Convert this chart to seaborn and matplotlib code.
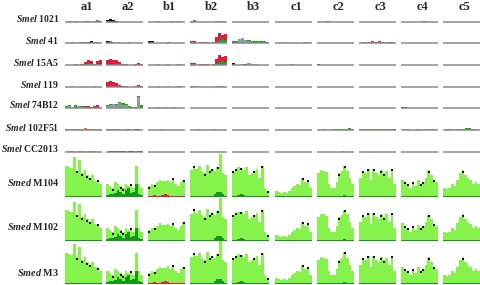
import numpy as np
import seaborn as sns
import matplotlib.pyplot as plt

# Panel columns and rows
columns = ["a1", "a2", "b1", "b2", "b3", "c1", "c2", "c3", "c4", "c5"]
smel_rows = ["1021", "41", "15A5", "119", "74B12", "102F51", "CC2013"]
smed_rows = ["M104", "M102", "M3"]

# Smel profiles (heights in pixels), one dict per row and colour layer
smel_1021_blue = {"a1": [0.5, 1, 0.5, 1, 0.5, 0.5, 1.5, 1, 0.5, 1.5, 2, 1],
                  "b2": [1.5, 2, 0.5, 0.5, 0.3, 0.3, 0.3, 0.3, 1, 1.5, 1, 0.3]}
smel_1021_black = {"a2": [2, 3, 2.5, 1, 0.5, 0.5, 0.5, 0.5, 0.5, 0.5, 0.5, 0.5],
                   "c2": [0, 0, 0, 0.8, 0, 0, 0, 0, 0, 0, 0, 0],
                   "c4": [0, 0, 0, 0, 0, 0, 0, 0.8, 0, 0, 0, 0]}
smel_1021_gray = {"b1": [0.5, 0.5, 0.5, 1, 0.5, 0.5, 0.5, 1, 0.5, 1, 1.5, 0.5],
                  "b3": [0.3, 0.3, 0.5, 0.3, 0.3, 0.5, 0.3, 0.3, 0.3, 0.5, 0.3, 0.3]}

smel_41_blue = {"a1": [0.5, 0.5, 1, 0.5, 0.5, 1, 1.5, 1, 2, 1.5, 1, 0.5],
                "a2": [1.5, 2, 1, 0.5, 1, 0.5, 0.5, 1, 0.5, 0.5, 0.5, 0.3]}
smel_41_black = {"a1": [0, 0, 0, 0, 0, 0, 0, 1.5, 2, 0, 0, 0],
                 "a2": [2, 0, 0, 0, 0, 0, 0, 0, 0, 0, 0, 0],
                 "b1": [2.5, 2, 0.5, 0.5, 0.5, 0.5, 1, 0.5, 0.5, 0.5, 0.5, 0.5],
                 "b3": [1.5, 0, 0, 0, 0, 0, 0, 0, 0, 0, 0, 0]}
smel_41_red = {"b2": [2.5, 2, 0.5, 0.8, 1, 0.8, 0.5, 1, 6, 10, 8, 9],
               "c3": [0.5, 1, 1.5, 1, 2, 1.5, 2, 1.5, 1, 1.5, 1, 0.5]}
smel_41_green = {"b2": [0, 0, 0, 0, 0, 0, 0, 0, 1, 3.5, 4, 3],
                 "b3": [2, 2, 3.5, 4.5, 3.5, 3, 2, 2, 2.5, 2, 2.5, 1.5]}
smel_41_gray = {"b3": [0, 1, 4, 5, 3, 2.5, 1, 0, 1.5, 0, 1.5, 0],
                "c1": [0.3, 0.3, 0.8, 0.3, 0.3, 0.3, 0.3, 0.3, 0.5, 1, 0.8, 0.3],
                "c3": [0, 0.8, 1.5, 0, 1.5, 1.5, 1, 0, 0.8, 0, 0, 0]}

smel_15a5_red = {"a1": [0.5, 0.5, 0.5, 1, 0.5, 1, 3, 5, 4, 1, 4.5, 5],
                 "a2": [5, 6, 5, 5, 3, 1, 1, 0.5, 0.5, 1, 2.5, 1],
                 "b2": [2, 2.5, 0.5, 0.8, 1, 0.8, 0.5, 1, 6, 10, 8, 9]}
smel_15a5_green = {"a1": [0, 0, 0, 0, 0, 0, 1, 1.5, 1.5, 1, 1, 1],
                   "b2": [0, 0, 0, 0, 0, 0, 0, 0, 1, 3.5, 4, 3]}
smel_15a5_gray = {"b1": [0.5, 0.5, 0.5, 0.8, 0.5, 0.5, 0.8, 0.5, 0.5, 1, 1, 0.5],
                  "b3": [2, 0.5, 0.5, 1.5, 1, 2, 1.5, 1, 0.5, 0.5, 0.5, 0.3],
                  "c1": [0.3, 0.3, 0.3, 0.3, 0.3, 0.8, 0.3, 0.3, 0.3, 0.3, 0.3, 0.3]}
smel_15a5_black = {"b3": [2, 0, 0, 0, 1.5, 0, 0, 0, 0, 0, 0, 0],
                   "c2": [1, 0, 0, 0, 0, 0, 0, 0, 0, 0, 0, 0]}

smel_119_gray = {"a1": [0.5, 0.5, 1, 0.5, 0.5, 0.5, 0.8, 0.5, 0.5, 1, 0.5, 0.5],
                 "b1": [0.5, 0.5, 0.5, 0.8, 0.5, 0.5, 0.8, 0.5, 0.5, 1, 1, 0.5]}
smel_119_red = {"a2": [5, 6, 5, 4, 2, 1, 1, 0.5, 0.5, 1, 2, 1]}
smel_119_blue = {"b2": [1.5, 1, 0.5, 0.3, 0.3, 0.3, 0.3, 0.3, 1.5, 1, 1, 0.3],
                 "b3": [0.5, 0.3, 0.3, 0.3, 0.3, 0.3, 0.3, 0.3, 0.3, 0.3, 0.3, 0.3]}

smel_74b12_green = {"a1": [2, 3, 1.5, 3, 2, 2.5, 1, 2, 1, 2.5, 3, 1.5],
                    "a2": [3, 4, 4.5, 4, 6, 5, 4, 2, 1, 1, 12, 3]}
smel_74b12_gray = {"a1": [1, 2.5, 1, 0, 2, 1.5, 0, 0, 0, 0, 0, 1],
                   "a2": [2.5, 3, 4, 3, 5.5, 3.5, 3, 0, 0, 0, 11, 0],
                   "b1": [1, 0.5, 0.5, 1, 0.5, 1, 0.5, 0.5, 1, 0.5, 0.5, 0.5]}
smel_74b12_red = {"a1": [0, 0, 0, 0, 0, 0, 2, 2.5, 0, 2, 3, 0]}
smel_74b12_black = {"c4": [1, 0.8, 0, 0, 0, 0, 0, 0, 0, 0, 0, 0]}

smel_102f51_orange = {"a1": [1, 1, 1.5, 1, 1, 1.5, 2, 1.5, 1, 1.5, 1, 1],
                      "c3": [1, 1, 1.5, 1, 1, 1.5, 1, 1, 1.5, 1, 1, 1.5]}
smel_102f51_blue = {"a2": [1, 1.5, 1.5, 1, 1, 0.5, 1, 1, 0.5, 1, 1.5, 0.5]}
smel_102f51_black = {"a2": [0, 0, 0, 0, 0, 0, 0, 0, 0, 0.8, 1.5, 0],
                     "c3": [0, 0, 0, 0, 0, 0, 0, 0, 0, 0, 0, 1.5]}
smel_102f51_green = {"c2": [0.5, 0.5, 1, 0.5, 0.5, 1.5, 1, 1.5, 1, 1.5, 2, 1],
                     "c5": [0.5, 1, 1.5, 0.5, 1, 1, 1.5, 2, 2, 1.5, 1, 0.5]}
smel_102f51_gray = {"b1": [0.5, 0.5, 0.5, 0.5, 0.8, 0.5, 0.5, 0.5, 0.5, 0.5, 0.5, 0.5],
                    "b2": [0.5, 0.5, 0.8, 0.5, 0.5, 0.5, 0.5, 0.8, 0.5, 0.5, 0.5, 0.5],
                    "c4": [0.5, 1, 1, 0.5, 0.5, 0.8, 0.5, 1, 1.5, 1, 1, 0.5]}

smel_cc2013_orange = {"a1": [0.5, 1, 1, 0.5, 1, 1, 0.5, 1, 1.5, 1, 0.5, 0.5]}
smel_cc2013_black = {"a2": [0.5, 1, 1.5, 1, 1.5, 1, 0.5, 1, 1, 0.5, 1, 1]}
smel_cc2013_gray = {"a2": [0, 0.5, 0, 0.5, 0, 1, 1.5, 0.5, 0, 1.5, 0, 0],
                    "b2": [0.5, 0.3, 0.3, 0.3, 0.5, 0.3, 0.3, 0.3, 0.3, 0.3, 0.3, 0.3],
                    "c2": [0.3, 0.3, 0.5, 0.3, 0.3, 0.3, 0.3, 0.3, 0.8, 0.3, 0.3, 0.3]}

smel_layers = {
    "1021": [("gray", smel_1021_gray), ("blue", smel_1021_blue), ("black", smel_1021_black)],
    "41": [("blue", smel_41_blue), ("red", smel_41_red), ("green", smel_41_green),
           ("gray", smel_41_gray), ("black", smel_41_black)],
    "15A5": [("red", smel_15a5_red), ("green", smel_15a5_green), ("gray", smel_15a5_gray),
             ("black", smel_15a5_black)],
    "119": [("gray", smel_119_gray), ("red", smel_119_red), ("blue", smel_119_blue)],
    "74B12": [("green", smel_74b12_green), ("gray", smel_74b12_gray), ("red", smel_74b12_red),
              ("black", smel_74b12_black)],
    "102F51": [("orange", smel_102f51_orange), ("blue", smel_102f51_blue),
               ("green", smel_102f51_green), ("gray", smel_102f51_gray),
               ("black", smel_102f51_black)],
    "CC2013": [("orange", smel_cc2013_orange), ("gray", smel_cc2013_gray),
               ("black", smel_cc2013_black)],
}

# Smed profiles (fraction of panel height): total, dark-green part, red part, marked bars
m104_total = {
    "a1": [0.72, 0.7, 0.68, 0.92, 0.6, 0.85, 0.55, 0.62, 0.5, 0.45, 0.5, 0.38, 0.4, 0.3],
    "a2": [0.3, 0.25, 0.2, 0.35, 0.3, 0.25, 0.2, 0.3, 0.25, 0.3, 0.2, 0.72, 0.3, 0.2],
    "b1": [0.25, 0.3, 0.28, 0.35, 0.4, 0.38, 0.36, 0.4, 0.35, 0.45, 0.3, 0.25, 0.35, 0.4],
    "b2": [0.62, 0.72, 0.65, 0.72, 0.6, 0.55, 0.75, 0.6, 0.65, 0.6, 0.7, 1.0, 0.55, 0.5],
    "b3": [0.6, 0.65, 0.7, 0.68, 0.62, 0.7, 0.5, 0.55, 0.6, 0.65, 0.45, 0.72, 0.2, 0.15],
    "c1": [0.15, 0.12, 0.1, 0.12, 0.1, 0.15, 0.2, 0.25, 0.3, 0.28, 0.45, 0.35, 0.4, 0.2],
    "c2": [0.55, 0.62, 0.6, 0.58, 0.3, 0.2, 0.2, 0.35, 0.55, 0.6, 0.72, 0.6, 0.45, 0.3],
    "c3": [0.45, 0.6, 0.55, 0.65, 0.4, 0.65, 0.55, 0.5, 0.62, 0.55, 0.6, 0.45, 0.65, 0.3],
    "c4": [0.4, 0.35, 0.3, 0.2, 0.35, 0.25, 0.4, 0.3, 0.35, 0.45, 0.62, 0.5, 0.4, 0.35],
    "c5": [0.2, 0.18, 0.22, 0.3, 0.25, 0.4, 0.55, 0.62, 0.5, 0.45, 0.4, 0.3, 0.35, 0.3],
}
m102_total = {
    "a1": [0.72, 0.7, 0.68, 0.9, 0.6, 0.85, 0.55, 0.62, 0.5, 0.45, 0.5, 0.4, 0.4, 0.3],
    "a2": [0.3, 0.25, 0.2, 0.35, 0.3, 0.25, 0.2, 0.3, 0.25, 0.3, 0.2, 0.72, 0.3, 0.2],
    "b1": [0.25, 0.3, 0.3, 0.35, 0.42, 0.38, 0.36, 0.4, 0.35, 0.42, 0.3, 0.25, 0.35, 0.45],
    "b2": [0.62, 0.75, 0.65, 0.72, 0.6, 0.55, 0.75, 0.6, 0.65, 0.6, 0.7, 1.0, 0.55, 0.5],
    "b3": [0.6, 0.65, 0.68, 0.68, 0.62, 0.7, 0.5, 0.55, 0.6, 0.65, 0.45, 0.72, 0.2, 0.15],
    "c1": [0.15, 0.12, 0.1, 0.12, 0.1, 0.15, 0.2, 0.25, 0.3, 0.28, 0.45, 0.35, 0.42, 0.2],
    "c2": [0.55, 0.62, 0.62, 0.58, 0.3, 0.2, 0.2, 0.35, 0.55, 0.6, 0.72, 0.62, 0.45, 0.3],
    "c3": [0.45, 0.6, 0.55, 0.65, 0.4, 0.65, 0.55, 0.5, 0.62, 0.55, 0.62, 0.45, 0.65, 0.3],
    "c4": [0.42, 0.35, 0.3, 0.2, 0.35, 0.25, 0.38, 0.3, 0.35, 0.45, 0.6, 0.5, 0.4, 0.35],
    "c5": [0.2, 0.18, 0.22, 0.3, 0.25, 0.42, 0.55, 0.62, 0.52, 0.45, 0.4, 0.3, 0.35, 0.3],
}
m3_total = {
    "a1": [0.72, 0.7, 0.68, 0.92, 0.62, 0.85, 0.55, 0.62, 0.5, 0.45, 0.5, 0.4, 0.38, 0.3],
    "a2": [0.3, 0.25, 0.2, 0.35, 0.3, 0.25, 0.2, 0.3, 0.25, 0.3, 0.2, 0.72, 0.3, 0.2],
    "b1": [0.25, 0.3, 0.28, 0.35, 0.4, 0.38, 0.36, 0.42, 0.35, 0.45, 0.3, 0.25, 0.35, 0.4],
    "b2": [0.62, 0.72, 0.65, 0.72, 0.6, 0.55, 0.75, 0.6, 0.65, 0.6, 0.7, 1.0, 0.55, 0.5],
    "b3": [0.6, 0.65, 0.7, 0.68, 0.62, 0.7, 0.5, 0.55, 0.6, 0.65, 0.45, 0.72, 0.2, 0.15],
    "c1": [0.15, 0.12, 0.1, 0.12, 0.1, 0.15, 0.2, 0.25, 0.3, 0.28, 0.45, 0.35, 0.4, 0.2],
    "c2": [0.55, 0.62, 0.6, 0.58, 0.3, 0.2, 0.2, 0.35, 0.55, 0.6, 0.74, 0.6, 0.45, 0.3],
    "c3": [0.45, 0.6, 0.55, 0.65, 0.4, 0.65, 0.55, 0.5, 0.62, 0.55, 0.6, 0.45, 0.65, 0.3],
    "c4": [0.4, 0.35, 0.3, 0.2, 0.35, 0.25, 0.4, 0.3, 0.35, 0.45, 0.62, 0.5, 0.4, 0.35],
    "c5": [0.2, 0.18, 0.22, 0.3, 0.25, 0.4, 0.55, 0.62, 0.5, 0.45, 0.4, 0.3, 0.35, 0.3],
}
smed_dark = {
    "a1": [0.03, 0.03, 0.03, 0.03, 0.03, 0.03, 0.03, 0.03, 0.03, 0.03, 0.03, 0.03, 0.03, 0.03],
    "a2": [0.04, 0.08, 0.06, 0.1, 0.16, 0.12, 0.08, 0.16, 0.2, 0.1, 0.12, 0.3, 0.08, 0.04],
    "b1": [0.03, 0.03, 0.03, 0.03, 0.03, 0.03, 0.03, 0.03, 0.03, 0.03, 0.03, 0.03, 0.03, 0.03],
    "b2": [0.02, 0.02, 0.02, 0.02, 0.02, 0.02, 0.02, 0.02, 0.03, 0.08, 0.12, 0.12, 0.08, 0.03],
    "b3": [0.03, 0.03, 0.05, 0.06, 0.04, 0.03, 0.03, 0.03, 0.03, 0.03, 0.03, 0.03, 0.02, 0.02],
    "c1": [0.02, 0.02, 0.02, 0.02, 0.02, 0.02, 0.02, 0.02, 0.02, 0.02, 0.03, 0.02, 0.02, 0.02],
    "c2": [0.02, 0.02, 0.02, 0.02, 0.02, 0.02, 0.02, 0.02, 0.02, 0.03, 0.04, 0.03, 0.02, 0.02],
    "c3": [0.02, 0.02, 0.02, 0.02, 0.02, 0.02, 0.02, 0.02, 0.02, 0.02, 0.02, 0.02, 0.02, 0.02],
    "c4": [0.02, 0.02, 0.02, 0.02, 0.02, 0.02, 0.02, 0.02, 0.02, 0.02, 0.02, 0.02, 0.02, 0.02],
    "c5": [0.02, 0.02, 0.02, 0.02, 0.02, 0.02, 0.02, 0.02, 0.03, 0.03, 0.02, 0.02, 0.02, 0.02],
}
smed_red = {
    "b1": [0.03, 0.02, 0.04, 0.02, 0.03, 0.05, 0.06, 0.04, 0.02, 0.03, 0.02, 0.02, 0.03, 0.02],
}
smed_marked = {
    "a1": [4, 6, 8, 9, 12],
    "a2": [2, 5, 6, 9],
    "b1": [0, 2, 9, 13],
    "b2": [1, 5, 7, 8, 10],
    "b3": [0, 1, 3, 8, 11, 13],
    "c1": [10, 12],
    "c2": [8, 10],
    "c3": [1, 3, 5, 8, 9, 12],
    "c4": [1, 2, 4, 7, 8, 10, 12],
    "c5": [7],
}
smed_totals = {"M104": m104_total, "M102": m102_total, "M3": m3_total}

# Colours
palette = {"blue": "#4a78d8", "black": "#151515", "gray": "#8f9c9a", "red": "#e01c3c",
           "green": "#1ea51e", "orange": "#f07a3a"}
light_green = "#86f24c"
dark_green = "#0f9a1a"

# Layout in pixels
W, H = 480, 285
col_left = [65, 106, 148, 190, 232, 275, 317, 359, 401, 443]
col_width = 37
smel_base = [22, 43, 65, 87, 108, 130, 152]
smed_base = [197, 241, 284]

sns.set_theme(style="white")
plt.rcParams["font.family"] = ["Liberation Serif", "DejaVu Serif"]
plt.rcParams["mathtext.fontset"] = "custom"
plt.rcParams["mathtext.it"] = "Liberation Serif:italic:bold"
plt.rcParams["mathtext.rm"] = "Liberation Serif:bold"

fig = plt.figure(figsize=(W / 100, H / 100), dpi=100)


def new_axes(left, base, height):
    ax = fig.add_axes([left / W, (H - base) / H, col_width / W, height / H])
    ax.set_axis_off()
    return ax


# Column headers
for c, left in zip(columns, col_left):
    fig.text((left + col_width / 2 + 3) / W, 1 - 7 / H, c, ha="center", va="center",
             fontsize=9, fontweight="bold")

# Smel rows
for name, base in zip(smel_rows, smel_base):
    fig.text(59 / W, 1 - (base - 3) / H, r"$\mathit{Smel}$ " + name, ha="right",
             va="center", fontsize=7, fontweight="bold")
    for c, left in zip(columns, col_left):
        ax = new_axes(left, base + 1, 16)
        x = np.arange(12)
        for colour, layer in smel_layers[name]:
            if c in layer:
                sns.barplot(x=x, y=layer[c], color=palette[colour], width=1,
                            saturation=1, errorbar=None, ax=ax, linewidth=0)
        ax.axhline(0, color="#8a8a8a", lw=1.1)
        ax.set_xlim(-0.5, 11.5)
        ax.set_ylim(-1, 15)
        ax.set_axis_off()

# Smed rows
for name, base in zip(smed_rows, smed_base):
    label_y = {"M104": 183, "M102": 227, "M3": 273}[name]
    fig.text(59 / W, 1 - label_y / H, r"$\mathit{Smed}$ " + name, ha="right",
             va="center", fontsize=7.3, fontweight="bold")
    totals = smed_totals[name]
    for c, left in zip(columns, col_left):
        ax = new_axes(left, base, 44)
        vals = totals[c]
        x = np.arange(len(vals))
        sns.barplot(x=x, y=vals, color=light_green, width=1, saturation=1,
                    errorbar=None, ax=ax, linewidth=0)
        sns.barplot(x=x, y=smed_dark[c], color=dark_green, width=1, saturation=1,
                    errorbar=None, ax=ax, linewidth=0)
        if c in smed_red and name != "M102":
            sns.barplot(x=x, y=smed_red[c], color=palette["red"], width=1,
                        saturation=1, errorbar=None, ax=ax, linewidth=0)
        idx = smed_marked[c]
        ax.scatter(idx, [vals[i] - 0.03 for i in idx], marker="s", s=2.5,
                   color="#111111", zorder=5, linewidths=0)
        ax.set_xlim(-0.5, len(vals) - 0.5)
        ax.set_ylim(0, 1.02)
        ax.set_axis_off()

fig.savefig("out.png", dpi=100)
